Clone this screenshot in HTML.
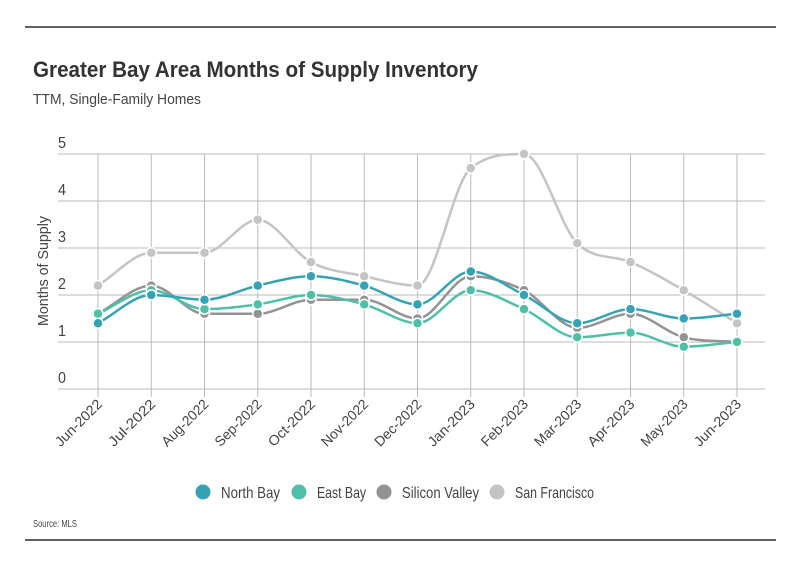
<!DOCTYPE html>
<html><head><meta charset="utf-8"><style>
body{margin:0;background:#fff;}
#wrap{position:relative;width:801px;height:575px;font-family:"Liberation Sans Narrow","Liberation Sans",sans-serif;color:#333;}
</style></head><body>
<div id="wrap">
<svg id="svg" width="801" height="575" xmlns="http://www.w3.org/2000/svg">
<line x1="25" y1="27" x2="776" y2="27" stroke="#000" stroke-width="1.2"/>
<line x1="25" y1="540" x2="776" y2="540" stroke="#000" stroke-width="1.2"/>
<text x="33" y="77" font-size="22" font-weight="bold" fill="#333" textLength="445" lengthAdjust="spacingAndGlyphs">Greater Bay Area Months of Supply Inventory</text>
<text x="33" y="104" font-size="15" fill="#444" textLength="168" lengthAdjust="spacingAndGlyphs">TTM, Single-Family Homes</text>
<text transform="translate(48,271) rotate(-90)" text-anchor="middle" font-size="15" fill="#444" textLength="110" lengthAdjust="spacingAndGlyphs">Months of Supply</text>
<text x="33" y="527" font-size="10" fill="#444" textLength="44" lengthAdjust="spacingAndGlyphs">Source:  MLS</text>
<g id="grid"></g><g id="series"></g><g id="legend"></g>
</svg>
</div>
<script>
const categories=["Jun-2022","Jul-2022","Aug-2022","Sep-2022","Oct-2022","Nov-2022","Dec-2022","Jan-2023","Feb-2023","Mar-2023","Apr-2023","May-2023","Jun-2023"];
const seriesNames=["San Francisco","Silicon Valley","East Bay","North Bay"];
const seriesColors=["#c4c4c4","#939393","#4fbfa8","#36a3b5"];
const sanFrancisco=[2.2,2.9,2.9,3.6,2.7,2.4,2.2,4.7,5.0,3.1,2.7,2.1,1.4];
const siliconValley=[1.6,2.2,1.6,1.6,1.9,1.9,1.5,2.4,2.1,1.3,1.6,1.1,1.0];
const eastBay=[1.6,2.1,1.7,1.8,2.0,1.8,1.4,2.1,1.7,1.1,1.2,0.9,1.0];
const northBay=[1.4,2.0,1.9,2.2,2.4,2.2,1.8,2.5,2.0,1.4,1.7,1.5,1.6];
const yTicks=[0,1,2,3,4,5];
const legendWidths=[59,49,77,79];
const NS="http://www.w3.org/2000/svg";
const x=i=>98+i*(737-98)/(categories.length-1);
const y=v=>389-v*47;
function mk(t,a,p){const e=document.createElementNS(NS,t);for(const k in a)e.setAttribute(k,a[k]);p.appendChild(e);return e;}
const grid=document.getElementById('grid');
yTicks.forEach(t=>{
  const l=mk('line',{x1:58,x2:765,y1:y(t),y2:y(t),stroke:'#bbb','stroke-width':1},grid);
  
  
  const tx=mk('text',{x:58,y:y(t)-6,'font-size':16,fill:'#444',textLength:8,lengthAdjust:'spacingAndGlyphs'},grid);tx.textContent=t;
  
  
});
categories.forEach((c,i)=>{
  const l=mk('line',{x1:x(i),x2:x(i),y1:154,y2:397,stroke:'#bbb','stroke-width':1},grid);
  
  
  const tx=mk('text',{transform:`translate(${x(i)+5},${405}) rotate(-45)`,'text-anchor':'end','font-size':14,fill:'#444',textLength:60,lengthAdjust:'spacingAndGlyphs'},grid);tx.textContent=c;
  
  
});
function monotone(pts){
  const n=pts.length,d=[],m=[];
  for(let i=0;i<n-1;i++)d.push((pts[i+1][1]-pts[i][1])/(pts[i+1][0]-pts[i][0]));
  for(let i=0;i<n;i++){
    if(i==0)m.push(d[0]);else if(i==n-1)m.push(d[n-2]);
    else m.push(d[i-1]*d[i]<=0?0:(d[i-1]+d[i])/2);
  }
  for(let i=0;i<n-1;i++){
    if(d[i]===0){m[i]=0;m[i+1]=0;continue;}
    const a=m[i]/d[i],b=m[i+1]/d[i],s=a*a+b*b;
    if(s>9){const t=3/Math.sqrt(s);m[i]=t*a*d[i];m[i+1]=t*b*d[i];}
  }
  let s=`M${pts[0][0]},${pts[0][1]}`;
  for(let i=0;i<n-1;i++){const h=(pts[i+1][0]-pts[i][0])/3;
    s+=`C${pts[i][0]+h},${pts[i][1]+m[i]*h} ${pts[i+1][0]-h},${pts[i+1][1]-m[i+1]*h} ${pts[i+1][0]},${pts[i+1][1]}`;}
  return s;
}
const data=[sanFrancisco,siliconValley,eastBay,northBay];
const sg=document.getElementById('series');
data.forEach((vals,si)=>{
  const g=mk('g',{},sg);
  
  
  const pts=vals.map((v,i)=>[x(i),y(v)]);
  const p=mk('path',{d:monotone(pts),fill:'none',stroke:seriesColors[si],'stroke-width':2.5},g);
  
  
  pts.forEach(pt=>{
    const c=mk('circle',{cx:pt[0],cy:pt[1],r:5,fill:seriesColors[si],stroke:'#fff','stroke-width':1.5},g);
    
    
  });
});
const lg=document.getElementById('legend');
const legOrder=[3,2,1,0],lx=[203,299,384,497];
legOrder.forEach((si,k)=>{
  const g=mk('g',{},lg);
  
  
  mk('circle',{cx:lx[k],cy:492,r:7.5,fill:seriesColors[si]},g);
  const t=mk('text',{x:lx[k]+18,y:498,'font-size':16,fill:'#444',textLength:legendWidths[k],lengthAdjust:'spacingAndGlyphs'},g);t.textContent=seriesNames[si];
});
</script>
</body></html>
